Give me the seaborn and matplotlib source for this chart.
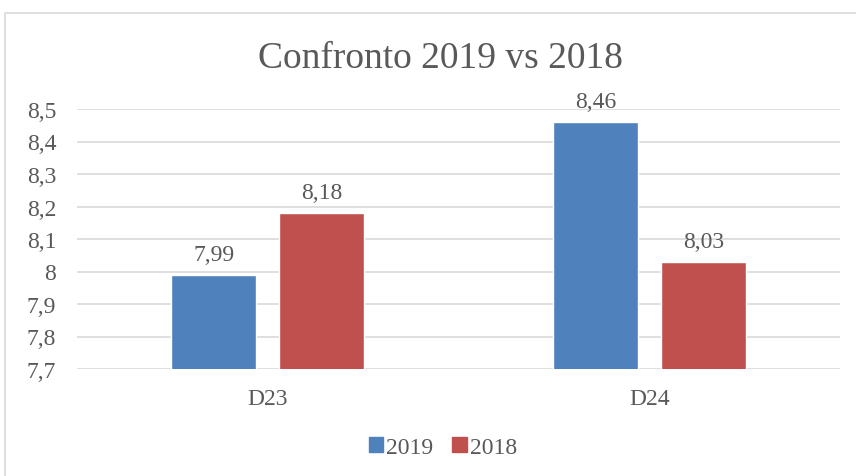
import numpy as np
import pandas as pd
import matplotlib
matplotlib.use("Agg")
import matplotlib.pyplot as plt
from matplotlib.patches import Rectangle
import seaborn as sns

# data
categories = ["D23", "D24"]
values_2019 = [7.99, 8.46]
values_2018 = [8.18, 8.03]
years = ["2019", "2018"]
ytick_values = [7.7, 7.8, 7.9, 8.0, 8.1, 8.2, 8.3, 8.4, 8.5]
ytick_labels = ["7,7", "7,8", "7,9", "8", "8,1", "8,2", "8,3", "8,4", "8,5"]

df = pd.DataFrame({
    "cat": categories * 2,
    "year": [years[0]] * 2 + [years[1]] * 2,
    "value": values_2019 + values_2018,
})

sns.set_style("white")
plt.rcParams["font.family"] = ["Liberation Serif", "DejaVu Serif"]
text_col = "#595959"
grid_col = "#D9D9D9"
palette = {"2019": "#4F81BD", "2018": "#C0504D"}
fs = 17

fig = plt.figure(figsize=(8.56, 4.77), dpi=100)
# outer chart frame (cut off at right and bottom)
fig.patches.append(Rectangle((5 / 856, -0.1), 1.2, 1 - 14 / 477 + 0.1,
                             transform=fig.transFigure, fill=False,
                             edgecolor=grid_col, lw=1.2))

ax = fig.add_axes([77 / 856, 1 - 370 / 477, (840 - 77) / 856, 260 / 477])
sns.barplot(data=df, x="cat", y="value", hue="year", palette=palette,
            width=0.566, gap=0.214, ax=ax, legend=False, saturation=1)

ax.set_ylim(7.7, 8.5)
ax.set_xlim(-0.5, 1.5)
ax.set_yticks(ytick_values)
ax.set_yticklabels(ytick_labels)
ax.yaxis.grid(True, color=grid_col, lw=1.2)
ax.set_axisbelow(True)
for s in ax.spines.values():
    s.set_visible(False)
ax.tick_params(axis="both", length=0, labelsize=fs, colors=text_col)
ax.tick_params(axis="x", pad=14)
ax.tick_params(axis="y", pad=15)
ax.set_xlabel("")
ax.set_ylabel("")

for cont in ax.containers:
    labs = [f"{b.get_height():.2f}".replace(".", ",") for b in cont]
    ax.bar_label(cont, labels=labs, padding=7, fontsize=fs, color=text_col,
                 clip_on=False)

fig.text(440 / 856, 1 - 59 / 477, "Confronto 2019 vs 2018", ha="center",
         va="center", fontsize=27, color=text_col)

handles = [Rectangle((0, 0), 1, 1, color=palette[y]) for y in years]
fig.legend(handles, years, loc="center", bbox_to_anchor=(443 / 856, 1 - 448 / 477),
           ncol=2, frameon=False, fontsize=fs, handlelength=0.6, handleheight=0.6,
           handletextpad=0.15, columnspacing=0.8, labelcolor=text_col)

fig.savefig("out.png", dpi=100)
